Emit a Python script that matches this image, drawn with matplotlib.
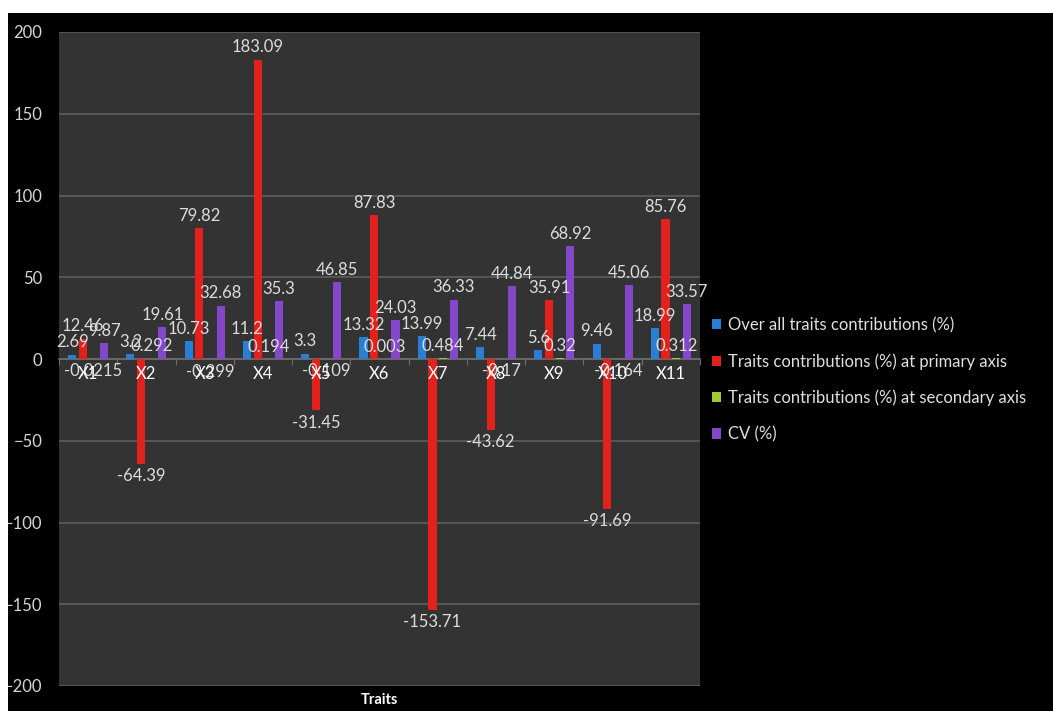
import numpy as np
import matplotlib.pyplot as plt
from matplotlib.patches import Rectangle

plt.rcParams['font.family'] = ['Lato', 'DejaVu Sans']

traits = ['X1', 'X2', 'X3', 'X4', 'X5', 'X6', 'X7', 'X8', 'X9', 'X10', 'X11']
overall = [2.69, 3.20, 10.73, 11.2, 3.3, 13.32, 13.99, 7.44, 5.6, 9.46, 18.99]
primary = [12.46, -64.39, 79.82, 183.09, -31.45, 87.83, -153.71, -43.62, 35.91, -91.69, 85.76]
secondary = [-0.0215, 0.292, -0.299, 0.194, -0.109, 0.003, 0.484, -0.17, 0.32, -0.164, 0.312]
cv = [9.87, 19.61, 32.68, 35.3, 46.85, 24.03, 36.33, 44.84, 68.92, 45.06, 33.57]

series = [
    ('Over all traits contributions (%)', overall, '#2a7fd4'),
    ('Traits contributions (%) at primary axis', primary, '#e3211c'),
    ('Traits contributions (%) at secondary axis', secondary, '#9ccc2e'),
    ('CV (%)', cv, '#8447c9'),
]

label_col = '#dcdcdc'

fig = plt.figure(figsize=(10.53, 7.11), dpi=100, facecolor='black')
# thin white margin along the top and left edges
fig.patches.append(Rectangle((0, 1 - 13 / 711), 1, 13 / 711, transform=fig.transFigure,
                             facecolor='white', edgecolor='none'))
fig.patches.append(Rectangle((0, 0), 8 / 1053, 1, transform=fig.transFigure,
                             facecolor='white', edgecolor='none'))

ax = fig.add_axes([59 / 1053, 1 - 686 / 711, (700 - 59) / 1053, (686 - 32) / 711])
ax.set_facecolor('#333333')

x = np.arange(len(traits))
step = 0.183
width = 0.14
handles = []
for k, (name, vals, col) in enumerate(series):
    pos = x + (k - 1.5) * step
    b = ax.bar(pos, vals, width, color=col, zorder=3, label=name)
    handles.append(b)
    for px, v in zip(pos, vals):
        s = ('%g' % v)
        if v >= 0:
            ax.annotate(s, (px, v), xytext=(0, 3), textcoords='offset points',
                        ha='center', va='bottom', color=label_col, fontsize=12, zorder=5)
        else:
            ax.annotate(s, (px, v), xytext=(0, -3), textcoords='offset points',
                        ha='center', va='top', color=label_col, fontsize=12, zorder=5)

ax.set_xlim(-0.5, len(traits) - 0.5)
ax.set_ylim(-200, 200)
ax.set_yticks(np.arange(-200, 201, 50))
ax.grid(axis='y', color='#5e5e5e', linewidth=1.2, zorder=1)
ax.tick_params(axis='y', length=0, pad=12, labelcolor='#d6d6d6', labelsize=12)

# category axis crossing at zero
ax.spines['bottom'].set_position(('data', 0))
ax.spines['bottom'].set_color('#6c6c6c')
ax.spines['bottom'].set_linewidth(1.2)
ax.spines['bottom'].set_zorder(2)
for sp in ['top', 'left', 'right']:
    ax.spines[sp].set_visible(False)
ax.set_xticks(np.arange(-0.5, len(traits), 1))
ax.set_xticklabels([])
ax.tick_params(axis='x', which='major', length=4, color='#6c6c6c', direction='out')

# category names sit just under the zero line, drawn over the bars
for xi, t in zip(x, traits):
    ax.annotate(t, (xi, 0), xytext=(0, -5), textcoords='offset points', ha='center',
                va='top', color='white', fontsize=12, zorder=6)

fig.text((59 + 700) / 2 / 1053, 1 - 700 / 711, 'Traits', color='white', fontsize=10.5,
         fontweight='bold', ha='center', va='center')

leg = fig.legend(handles=handles, loc='upper left', bbox_to_anchor=(697 / 1053, 1 - 302 / 711),
                 frameon=False, fontsize=12, labelcolor='#e0e0e0', handlelength=0.55,
                 handleheight=0.55, handletextpad=0.4, labelspacing=1.2)

fig.savefig('out.png', dpi=100, facecolor=fig.get_facecolor())
